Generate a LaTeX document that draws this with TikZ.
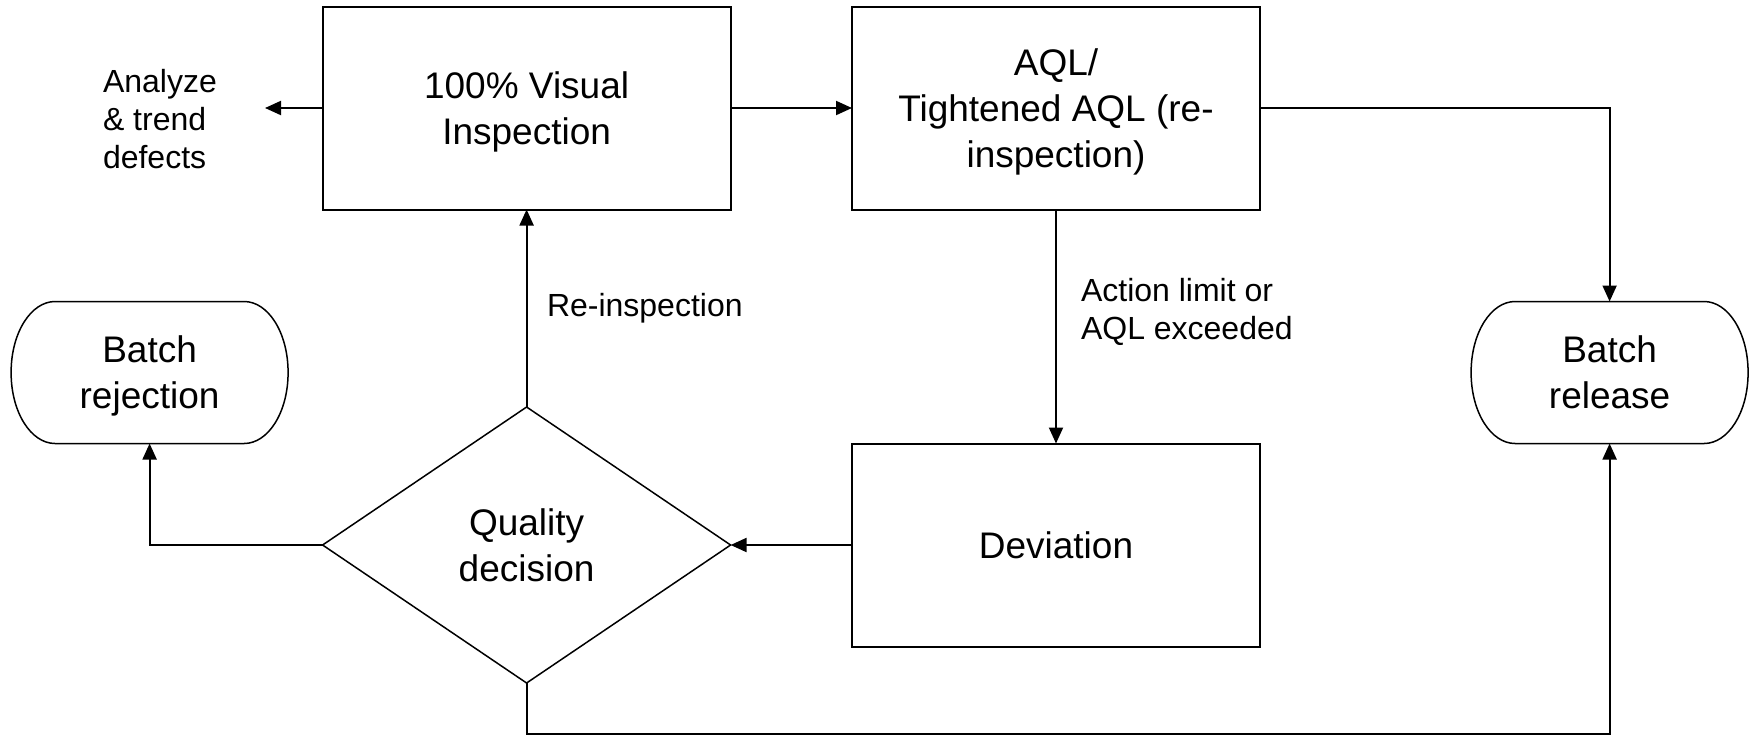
\documentclass[tikz,border=0pt]{standalone}
\usepackage{fontspec}
\setmainfont{Liberation Sans}
\usetikzlibrary{arrows.meta,shapes.geometric,calc}
\begin{document}
\begin{tikzpicture}[x=0.5pt,y=-0.5pt,
  every node/.style={inner sep=0pt, outer sep=0pt},
  bigtext/.style={font=\fontsize{18.5}{23}\selectfont},
  smalltext/.style={font=\fontsize{16}{19}\selectfont},
  procbox/.style={draw, line width=1pt, minimum width=204pt, minimum height=101.5pt, align=center, text depth=0pt, bigtext},
  termbox/.style={minimum width=138.5pt, minimum height=71pt, align=center, text depth=0pt, bigtext},
  decision/.style={draw, diamond, line width=0.75pt, minimum width=204pt, minimum height=138pt},
  outline/.style={line width=0.75pt},
  arr/.style={line width=1pt, -{Triangle[length=8pt,width=7pt]}}
]
\useasboundingbox (0,0) rectangle (1757,735);

% process steps
\node[procbox] (vis) at (526.6,108) {100\% Visual\\Inspection};
\node[procbox] (aql) at (1056,108) {AQL/\\Tightened AQL (re-\\inspection)};
\node[procbox] (dev) at (1056,545) {Deviation};

% decision
\node[decision] (qd) at (526.6,545) {};
\node[bigtext, align=center, text depth=0pt] (qdtext) at (qd) {Quality\\decision};

% terminal outcomes, drawn as barrels with bulging sides
\node[termbox] (rej) at (149.6,372.5) {Batch\\rejection};
\node[termbox] (rel) at (1609.6,372.5) {Batch\\release};
\foreach \n in {rej,rel}{
  \draw[outline] ($(\n.north west)+(44,0)$) -- ($(\n.north east)+(-44,0)$)
    .. controls ($(\n.north east)+(-20,0)$) and ($(\n.east)+(0,-40)$) .. (\n.east)
    .. controls ($(\n.east)+(0,40)$) and ($(\n.south east)+(-20,0)$) .. ($(\n.south east)+(-44,0)$)
    -- ($(\n.south west)+(44,0)$)
    .. controls ($(\n.south west)+(20,0)$) and ($(\n.west)+(0,40)$) .. (\n.west)
    .. controls ($(\n.west)+(0,-40)$) and ($(\n.north west)+(20,0)$) .. cycle;
}

% side note
\node[smalltext, align=left, anchor=west] (ana) at (103,119) {Analyze\\\& trend\\defects};
\coordinate (anatip) at (265,108);

% edge labels
\node[smalltext, anchor=west] (lre) at (547,308) {Re-inspection};
\node[smalltext, align=left, anchor=west] (lact) at (1081,312) {Action limit or\\AQL exceeded};

% connectors
\draw[arr] (vis.west) -- (anatip);
\draw[arr] (vis.east) -- (aql.west);
\draw[arr] (aql.east) -| (rel.north);
\draw[arr] (aql.south) -- (dev.north);
\draw[arr] (dev.west) -- (qd.east);
\draw[arr] (qd.north) -- (vis.south);
\draw[arr] (qd.west) -| (rej.south);
\draw[arr] (qd.south) -- ++(0,51) -| (rel.south);
\end{tikzpicture}
\end{document}
